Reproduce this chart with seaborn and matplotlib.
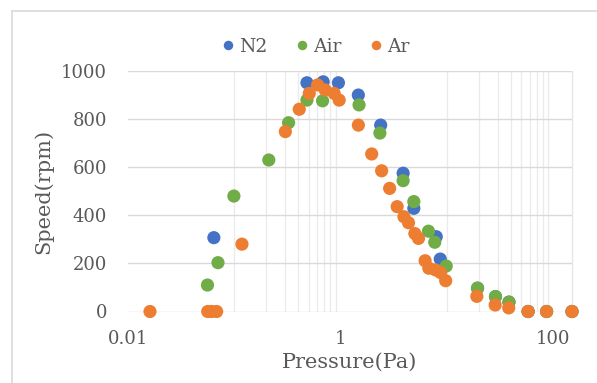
import seaborn as sns
import matplotlib.pyplot as plt
import matplotlib.ticker as mticker
import pandas as pd

# data (pressure in Pa, speed in rpm)
n2_pressure = [0.0642, 0.482, 0.685, 0.953, 1.467, 2.38, 3.87, 4.88, 7.93, 8.65,
               19.4, 28.6, 38.3, 58, 86.5, 150]
n2_speed = [307, 951, 955, 951, 900, 775, 575, 429, 311, 218,
            97, 62, 39, 0, 0, 0]

air_pressure = [0.0559, 0.0702, 0.0991, 0.211, 0.324, 0.482, 0.676, 1.49, 2.34, 3.87,
                4.88, 6.70, 7.68, 9.84, 19.4, 28.6, 38.3, 58, 86.5, 150]
air_speed = [110, 203, 480, 630, 785, 879, 876, 859, 742, 544,
             457, 334, 288, 189, 97, 62, 39, 0, 0, 0]

ar_pressure = [0.0161, 0.0562, 0.0612, 0.0682, 0.118, 0.302, 0.408, 0.507, 0.607, 0.716,
               0.869, 0.969, 1.468, 1.96, 2.43, 2.89, 3.40, 3.94, 4.35, 4.99,
               5.40, 6.23, 6.75, 7.80, 8.69, 9.73, 19.1, 28.4, 38.1, 58, 86.5, 150]
ar_speed = [0, 0, 0, 0, 280, 748, 841, 907, 942, 921,
            907, 879, 775, 655, 585, 512, 436, 394, 369, 324,
            304, 211, 180, 173, 162, 128, 63, 27, 15, 0, 0, 0]

gases = ["N2", "Air", "Ar"]
colors = ["#4472C4", "#70AD47", "#ED7D31"]

df = pd.concat([
    pd.DataFrame({"Pressure": n2_pressure, "Speed": n2_speed, "Gas": "N2"}),
    pd.DataFrame({"Pressure": air_pressure, "Speed": air_speed, "Gas": "Air"}),
    pd.DataFrame({"Pressure": ar_pressure, "Speed": ar_speed, "Gas": "Ar"}),
], ignore_index=True)

sns.set_theme(style="white")
plt.rcParams["font.family"] = ["DejaVu Serif"]
text_color = "#595959"

fig = plt.figure(figsize=(5.97, 3.83), dpi=100)
ax = fig.add_axes([128 / 597, 1 - 311.5 / 383, 444 / 597, 240.5 / 383])

# chart-area border (top and left, the rest is cropped off)
fig.add_artist(plt.Line2D([12 / 597, 1.0], [1 - 11 / 383] * 2, color="#d9d9d9", lw=1.2))
fig.add_artist(plt.Line2D([12 / 597] * 2, [0.0, 1 - 11 / 383], color="#d9d9d9", lw=1.2))

sns.scatterplot(data=df, x="Pressure", y="Speed", hue="Gas", hue_order=gases,
                palette=colors, s=90, linewidth=0, alpha=1, clip_on=False,
                zorder=3, ax=ax)

ax.set_xscale("log")
ax.set_xlim(0.01, 150)
ax.set_ylim(0, 1000)
ax.set_yticks(range(0, 1001, 200))
ax.xaxis.set_major_locator(mticker.FixedLocator([0.01, 1, 100]))
ax.xaxis.set_major_formatter(mticker.FixedFormatter(["0.01", "1", "100"]))
minor = [i / 10 for i in range(1, 10)] + [i * 10 for i in range(1, 10)]
ax.xaxis.set_minor_locator(mticker.FixedLocator(minor))
ax.xaxis.set_minor_formatter(mticker.NullFormatter())

ax.grid(False)
ax.grid(True, axis="y", which="major", color="#d9d9d9", lw=1)
ax.grid(True, axis="x", which="minor", color="#ebebeb", lw=1)
for side in ["top", "left", "bottom"]:
    ax.spines[side].set_visible(False)
ax.spines["right"].set_color("#e6e6e6")
ax.spines["right"].set_linewidth(1)

ax.tick_params(axis="both", which="both", length=0, labelsize=13, labelcolor=text_color)
ax.tick_params(axis="y", pad=15)
ax.tick_params(axis="x", pad=13)

ax.set_xlabel("Pressure(Pa)", fontsize=15, color=text_color, va="center")
ax.set_ylabel("Speed(rpm)", fontsize=15, color=text_color, va="center")
ax.xaxis.set_label_coords(0.5, -0.21)
ax.yaxis.set_label_coords(-0.191, 0.5)

leg = ax.legend(loc="center", bbox_to_anchor=(316 / 597, 1 - 47 / 383),
                bbox_transform=fig.transFigure, ncol=3, frameon=False,
                markerscale=0.72, handlelength=0.6, handletextpad=0.3,
                columnspacing=1.55, fontsize=13.5)
for t in leg.get_texts():
    t.set_color(text_color)

plt.savefig("out.png", dpi=100)
plt.close()
